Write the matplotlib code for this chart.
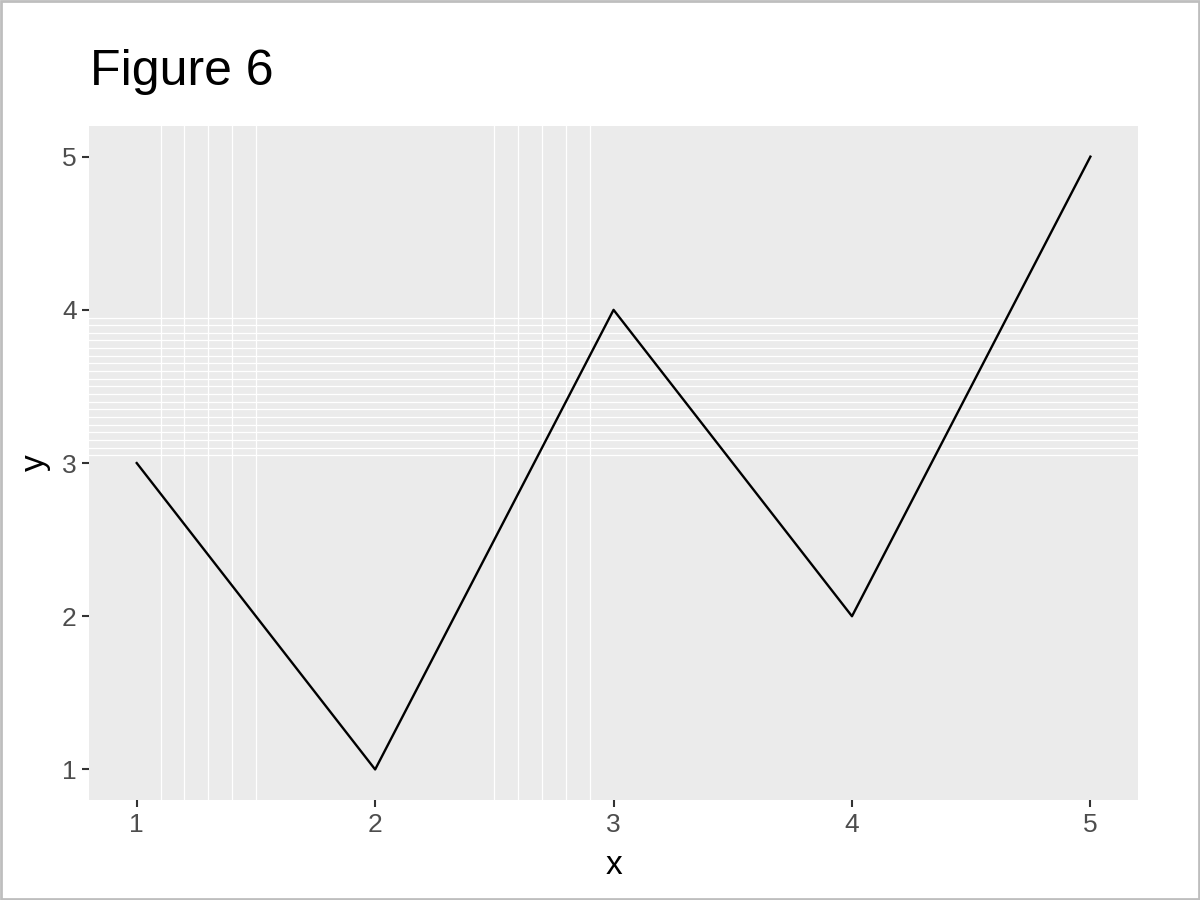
import numpy as np
import matplotlib
matplotlib.use("Agg")
import matplotlib.pyplot as plt
from matplotlib.patches import Rectangle

x = [1, 2, 3, 4, 5]
y = [3, 1, 4, 2, 5]
x_ticks = [1, 2, 3, 4, 5]
y_ticks = [1, 2, 3, 4, 5]
x_grid = [1.1, 1.2, 1.3, 1.4, 1.5, 2.5, 2.6, 2.7, 2.8, 2.9]
y_grid = [3.05, 3.10, 3.15, 3.20, 3.25, 3.30, 3.35, 3.40, 3.45, 3.50,
          3.55, 3.60, 3.65, 3.70, 3.75, 3.80, 3.85, 3.90, 3.95]

plt.rcParams["font.family"] = ["Liberation Sans", "DejaVu Sans"]

fig = plt.figure(figsize=(12, 9), dpi=100)
ax = fig.add_axes([0.0742, 0.111, 0.8742, 0.749])
ax.set_facecolor("#EBEBEB")

for gx in x_grid:
    ax.axvline(gx, color="white", linewidth=0.9, zorder=1)
for gy in y_grid:
    ax.axhline(gy, color="white", linewidth=0.9, zorder=1)

ax.plot(x, y, color="black", linewidth=1.7, zorder=3)

ax.set_xlim(0.8, 5.2)
ax.set_ylim(0.8, 5.2)
ax.set_xticks(x_ticks)
ax.set_yticks(y_ticks)
ax.tick_params(axis="both", length=5, width=1.5, color="#333333",
               labelcolor="#4D4D4D", labelsize=19, pad=4)
for s in ax.spines.values():
    s.set_visible(False)

ax.set_xlabel("x", fontsize=24, labelpad=10)
ax.set_ylabel("y", fontsize=24, labelpad=8)
fig.text(0.075, 0.92, "Figure 6", fontsize=36, ha="left", va="center")

fig.patches.append(Rectangle((0.001, 0.001), 0.998, 0.998, transform=fig.transFigure,
                             fill=False, edgecolor="#BEBEBE", linewidth=2))

fig.savefig("out.png", dpi=100)
